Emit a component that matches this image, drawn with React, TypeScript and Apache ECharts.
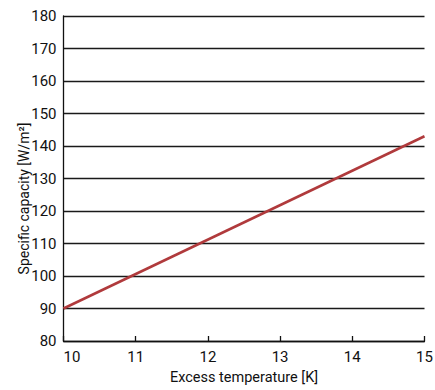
import React, { useEffect, useRef } from "react";
import * as echarts from "echarts";

const xValues = [10, 15];
const capacity = [90, 143];
const xTicks = { min: 10, max: 15, interval: 1 };
const yTicks = { min: 80, max: 180, interval: 10 };

const FONT = "Roboto, 'Liberation Sans', Arial, sans-serif";

export default function App() {
  const ref = useRef<HTMLDivElement>(null);
  useEffect(() => {
    const chart = echarts.init(ref.current!, null, { renderer: "svg" });
    const labelStyle = { fontFamily: FONT, fontWeight: "normal condensed", fontSize: 15, color: "#111" };
    const nameStyle = { fontFamily: FONT, fontWeight: "normal semi-condensed", fontSize: 14.5, color: "#111" };
    chart.setOption({
      animation: false,
      backgroundColor: "#ffffff",
      grid: { left: 63.5, right: 10.5, top: 16, bottom: 46.5 },
      xAxis: {
        type: "value",
        min: xTicks.min,
        max: xTicks.max,
        interval: xTicks.interval,
        name: "Excess temperature [K]",
        nameLocation: "middle",
        nameGap: 29,
        nameMoveOverlap: false,
        nameTextStyle: nameStyle,
        axisLine: { show: true, lineStyle: { color: "#111", width: 1.3 } },
        axisTick: { show: true, inside: true, length: 5, lineStyle: { color: "#111", width: 1.3 } },
        axisLabel: { ...labelStyle, margin: 8, alignMinLabel: "left" },
        splitLine: { show: false },
      },
      yAxis: {
        type: "value",
        min: yTicks.min,
        max: yTicks.max,
        interval: yTicks.interval,
        name: "Specific capacity [W/m²]",
        nameLocation: "middle",
        nameGap: 33,
        nameMoveOverlap: false,
        nameTextStyle: { ...nameStyle, fontSize: 14, padding: [0, 40, 0, 0] },
        axisLine: { show: true, lineStyle: { color: "#111", width: 1.3 } },
        axisTick: { show: false },
        axisLabel: { ...labelStyle, margin: 7 },
        splitLine: { show: true, lineStyle: { color: "#1a1a1a", width: 1.3 } },
      },
      series: [
        {
          type: "line",
          data: xValues.map((x, i) => [x, capacity[i]]),
          showSymbol: false,
          lineStyle: { color: "#b03a3c", width: 2.5 },
        },
      ],
    });
    return () => chart.dispose();
  }, []);
  return (
    <div
      ref={ref}
      style={{ position: "fixed", left: 0, top: 0, width: 435, height: 390, background: "#fff" }}
    />
  );
}
